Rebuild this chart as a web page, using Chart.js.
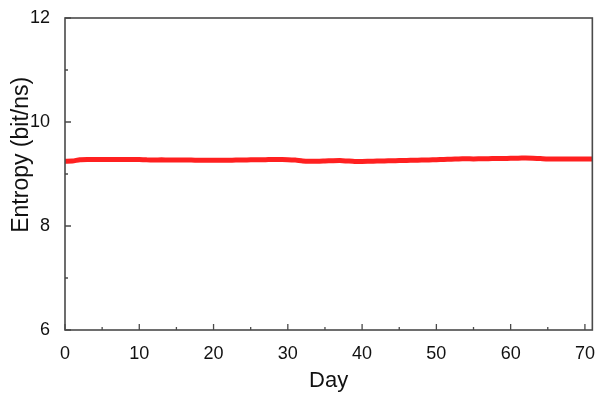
<!DOCTYPE html>
<html>
<head>
<meta charset="utf-8">
<script src="https://cdn.jsdelivr.net/npm/chart.js@4.4.1/dist/chart.umd.min.js"></script>
<style>
html,body{margin:0;padding:0;background:#fff;}
#wrap{width:600px;height:397px;position:relative;}
</style>
</head>
<body>
<div id="wrap"><canvas id="c" width="600" height="397"></canvas></div>
<script>
const days = [0,1,2,3,4,5,6,7,8,9,10,11,12,13,14,15,16,17,18,19,20,21,22,23,24,25,26,27,28,29,30,31,32,33,34,35,36,37,38,39,40,41,42,43,44,45,46,47,48,49,50,51,52,53,54,55,56,57,58,59,60,61,62,63,64,65,66,67,68,69,70,71];
const entropy = [9.245,9.25,9.275,9.28,9.28,9.278,9.28,9.28,9.277,9.28,9.278,9.272,9.27,9.272,9.27,9.268,9.27,9.268,9.265,9.266,9.264,9.266,9.265,9.267,9.268,9.272,9.274,9.276,9.28,9.278,9.276,9.268,9.252,9.246,9.245,9.25,9.255,9.258,9.25,9.242,9.24,9.244,9.248,9.252,9.255,9.258,9.262,9.265,9.268,9.27,9.275,9.28,9.285,9.29,9.292,9.29,9.293,9.295,9.297,9.298,9.302,9.305,9.306,9.305,9.298,9.29,9.29,9.288,9.29,9.29,9.29,9.29];
const xTicks = [0,10,20,30,40,50,60,70];
const yTicks = [6,8,10,12];
const xTitle = 'Day';
const yTitle = 'Entropy (bit/ns)';

const frame = {
  id:'frame',
  afterDraw(chart){
    const {ctx, chartArea:a, scales:{x,y}} = chart;
    ctx.save();
    ctx.strokeStyle = '#4a4a4a';
    ctx.lineWidth = 1.6;
    ctx.strokeRect(a.left, a.top, a.right-a.left, a.bottom-a.top);
    ctx.lineWidth = 1.3;
    ctx.beginPath();
    for (let v=0; v<=71; v+=5){
      const px = x.getPixelForValue(v);
      const len = v%10===0 ? 6 : 3;
      ctx.moveTo(px, a.bottom); ctx.lineTo(px, a.bottom-len);
    }
    for (let v=6; v<=12; v+=1){
      const py = y.getPixelForValue(v);
      const len = v%2===0 ? 6 : 3;
      ctx.moveTo(a.left, py); ctx.lineTo(a.left+len, py);
    }
    ctx.stroke();
    ctx.restore();
  }
};

new Chart(document.getElementById('c'), {
  type:'line',
  data:{
    datasets:[{
      data: days.map((d,i)=>({x:d,y:entropy[i]})),
      borderColor:'#ff2020',
      borderWidth:5,
      pointRadius:0,
      tension:0.2,
      fill:false
    }]
  },
  options:{
    responsive:false,
    animation:false,
    devicePixelRatio:1,
    layout:{padding:{top:18,right:5,left:0,bottom:0}},
    plugins:{legend:{display:false},tooltip:{enabled:false}},
    scales:{
      x:{
        type:'linear', min:0, max:71,
        grid:{display:false}, border:{display:false},
        afterBuildTicks(s){ s.ticks = xTicks.map(v=>({value:v})); },
        ticks:{color:'#111', font:{family:'Liberation Sans', size:18}, padding:5, maxRotation:0, includeBounds:false},
        title:{display:true, text:xTitle, color:'#111', font:{family:'Liberation Sans', size:22}, padding:{top:4,bottom:3}},
        afterFit(s){ s.height = 67; }
      },
      y:{
        type:'linear', min:6, max:12,
        grid:{display:false}, border:{display:false},
        afterBuildTicks(s){ s.ticks = yTicks.map(v=>({value:v})); },
        ticks:{color:'#111', font:{family:'Liberation Sans', size:18}, padding:7},
        title:{display:true, text:'\u00A0\u00A0\u00A0\u00A0\u00A0\u00A0' + yTitle, color:'#111', font:{family:'Liberation Sans', size:23}, padding:{top:8,bottom:4}},
        afterFit(s){ s.width = 65; }
      }
    }
  },
  plugins:[frame]
});
</script>
</body>
</html>
